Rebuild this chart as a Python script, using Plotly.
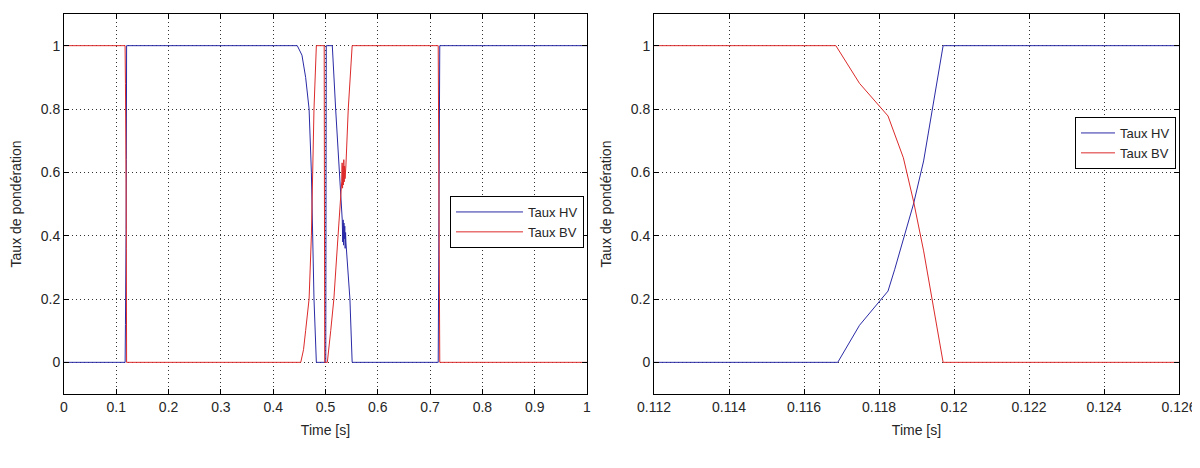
import plotly.graph_objects as go

# ---------------- data ----------------
# Left panel: full time range
left_hv_t = [0, 0.1169, 0.1175, 0.1182, 0.1187, 0.1192, 0.1195, 0.1197,
             0.446, 0.455, 0.462, 0.4686, 0.473, 0.476, 0.478, 0.4825,
             0.5005, 0.5015, 0.5035, 0.513, 0.5194, 0.527, 0.530, 0.532,
             0.5330, 0.5337, 0.5345, 0.5352, 0.5360, 0.5368, 0.5376, 0.5384,
             0.539, 0.5467, 0.551, 0.7155, 0.7185, 1.0]
left_hv_v = [0, 0, 0.12, 0.22, 0.42, 0.64, 0.82, 1,
             1, 0.97, 0.9, 0.8, 0.6, 0.4, 0.2, 0,
             0, 1, 1, 1, 0.8, 0.6, 0.5, 0.45,
             0.38, 0.45, 0.37, 0.44, 0.39, 0.43, 0.36, 0.41,
             0.38, 0.2, 0, 0, 1, 1]

left_bv_t = [0, 0.1168, 0.1175, 0.1182, 0.1187, 0.1192, 0.1195, 0.1197,
             0.4527, 0.458, 0.462, 0.4686, 0.473, 0.476, 0.478, 0.4825,
             0.4975, 0.4985, 0.5035, 0.510, 0.516, 0.524, 0.528, 0.531,
             0.5318, 0.5326, 0.5334, 0.5342, 0.5350, 0.5358, 0.5366, 0.5374,
             0.539, 0.5435, 0.551, 0.7155, 0.7185, 1.0]
left_bv_v = [1, 1, 0.88, 0.78, 0.58, 0.36, 0.17, 0,
             0, 0.04, 0.1, 0.2, 0.4, 0.6, 0.8, 1,
             1, 0, 0, 0.1, 0.2, 0.4, 0.5, 0.57,
             0.63, 0.55, 0.62, 0.56, 0.64, 0.57, 0.62, 0.58,
             0.62, 0.8, 1, 1, 0, 0]

# Right panel: zoom on the first switching
right_hv_t = [0.112, 0.1169, 0.11748, 0.11824, 0.11842, 0.11874, 0.11892,
              0.11919, 0.11946, 0.11971, 0.126]
right_hv_v = [0, 0, 0.117, 0.225, 0.294, 0.421, 0.50, 0.636, 0.822, 1, 1]

right_bv_t = [0.112, 0.11685, 0.11748, 0.11824, 0.11865, 0.11892, 0.11919,
              0.11946, 0.11971, 0.126]
right_bv_v = [1, 1, 0.881, 0.778, 0.646, 0.509, 0.352, 0.166, 0, 0]

left_xticks = [0, 0.1, 0.2, 0.3, 0.4, 0.5, 0.6, 0.7, 0.8, 0.9, 1]
left_xlabels = ["0", "0.1", "0.2", "0.3", "0.4", "0.5", "0.6", "0.7", "0.8", "0.9", "1"]
right_xticks = [0.112, 0.114, 0.116, 0.118, 0.12, 0.122, 0.124, 0.126]
right_xlabels = ["0.112", "0.114", "0.116", "0.118", "0.12", "0.122", "0.124", "0.126"]
yticks = [0, 0.2, 0.4, 0.6, 0.8, 1]
ylabels = ["0", "0.2", "0.4", "0.6", "0.8", "1"]

series_names = ["Taux HV", "Taux BV"]
BLUE = "#2a2aa6"
RED = "#dc2a2a"

# the page body adds an 8px margin, so the figure is sized to fit the 1200x468 window
W, H = 1192, 460
FONT = "Liberation Sans, Arial, sans-serif"
TXT = "#262626"

fig = go.Figure()
fig.add_trace(go.Scatter(x=left_hv_t, y=left_hv_v, mode="lines", name=series_names[0],
                         line=dict(color=BLUE, width=1), xaxis="x", yaxis="y", legend="legend"))
fig.add_trace(go.Scatter(x=left_bv_t, y=left_bv_v, mode="lines", name=series_names[1],
                         line=dict(color=RED, width=1), xaxis="x", yaxis="y", legend="legend"))
fig.add_trace(go.Scatter(x=right_hv_t, y=right_hv_v, mode="lines", name=series_names[0],
                         line=dict(color=BLUE, width=1), xaxis="x2", yaxis="y2", legend="legend2"))
fig.add_trace(go.Scatter(x=right_bv_t, y=right_bv_v, mode="lines", name=series_names[1],
                         line=dict(color=RED, width=1), xaxis="x2", yaxis="y2", legend="legend2"))

ydom = [1 - 386 / H, 1 - 6 / H]

common_axis = dict(
    automargin=False,
    showline=True, linecolor="black", linewidth=1, mirror="allticks",
    ticks="inside", ticklen=5, tickcolor="black",
    showgrid=True, gridcolor="#333333", griddash="1px,3px", gridwidth=1,
    zeroline=False, tickfont=dict(family=FONT, size=14, color=TXT),
    title_font=dict(family=FONT, size=14, color=TXT),
)

legend_common = dict(
    xanchor="right", yanchor="top",
    bgcolor="white", bordercolor="black", borderwidth=1,
    font=dict(family=FONT, size=13, color=TXT), tracegroupgap=0,
)

fig.update_layout(
    template="none",
    width=W, height=H,
    margin=dict(l=0, r=0, t=0, b=0, autoexpand=False),
    paper_bgcolor="white", plot_bgcolor="white",
    font=dict(family=FONT, size=13, color=TXT),
    xaxis=dict(domain=[56 / W, 579 / W], range=[0, 1.0000001], tickvals=left_xticks,
               ticktext=left_xlabels, anchor="y",
               title=dict(text="Time [s]", standoff=11), **common_axis),
    yaxis=dict(domain=ydom, range=[-0.1, 1.1], tickvals=yticks, ticktext=ylabels,
               anchor="x", title=dict(text="Taux de pondération", standoff=15), **common_axis),
    xaxis2=dict(domain=[646 / W, 1171 / W], range=[0.112, 0.12600001], tickvals=right_xticks,
                ticktext=right_xlabels, anchor="y2",
                title=dict(text="Time [s]", standoff=11), **common_axis),
    yaxis2=dict(domain=ydom, range=[-0.1, 1.1], tickvals=yticks, ticktext=ylabels,
                anchor="x2", title=dict(text="Taux de pondération", standoff=15), **common_axis),
    legend=dict(x=576 / W, y=1 - 188 / H, itemwidth=67, **legend_common),
    legend2=dict(x=1168 / W, y=1 - 109 / H, itemwidth=34, **legend_common),
    showlegend=True,
)

fig.write_html("out.html")
